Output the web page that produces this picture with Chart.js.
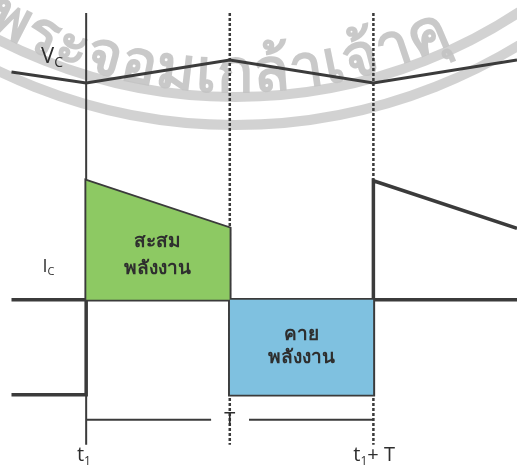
<!DOCTYPE html>
<html>
<head>
<meta charset="utf-8">
<script src="https://cdn.jsdelivr.net/npm/chart.js@4.4.1/dist/chart.umd.min.js"></script>
<style>
  html, body { margin: 0; padding: 0; background: #fff; }
  #wrap { width: 517px; height: 465px; }
</style>
</head>
<body>
<div id="wrap"><canvas id="myChart" width="517" height="465"></canvas></div>
<script>
// time in periods, t1 = 0, t1 + T = 1
const icTime = [-0.26, 0, 0, 0.5, 0.5, 1, 1, 1.5];
const icValues = [-0.8, -0.8, 1.0, 0.6, -0.8, -0.8, 1.0, 0.6];
const vcTime = [-0.26, 0, 0.5, 1, 1.5];
const vcValues = [0.48, 0, 1, 0, 1];
const storeTime = [0, 0, 0.5, 0.5];
const storeValues = [0, 1.0, 0.6, 0];
const releaseTime = [0.5, 0.5, 1, 1];
const releaseValues = [0, -0.8, -0.8, 0];
const axisTime = [-0.26, 1.5];
const markerTop = 2.41;
const markerBottom = -1.22;
const periodLevel = -1.01;
const periodGap = [0.435, 0.567];

const pts = (xs, ys) => xs.map((x, i) => ({ x: x, y: ys[i] }));
const ink = '#3b3b3b';

const watermark = {
    id: 'watermark',
    beforeDatasetsDraw(chart) {
        const ctx = chart.ctx;
        const cx = 235, cy = -420;
        ctx.save();
        ctx.strokeStyle = 'rgba(205,205,205,0.9)';
        ctx.lineWidth = 10;
        [517, 545].forEach(r => {
            ctx.beginPath();
            ctx.arc(cx, cy, r, 0, Math.PI);
            ctx.stroke();
        });
        // ข้อความโค้งตามวงกลม
        const glyphs = ['พ','ร','ะ','จ','อ','ม','เ','ก','ล้','า','เ','จ้','า','คุ'];
        const r = 512;
        ctx.font = 'bold 60px "Noto Sans", sans-serif';
        ctx.fillStyle = 'rgba(195,195,195,0.9)';
        ctx.textAlign = 'center';
        ctx.textBaseline = 'alphabetic';
        const widths = glyphs.map(g => ctx.measureText(g).width);
        const a0 = Math.asin(-250 / r), a1 = Math.asin(218 / r);
        const total = widths.reduce((s, w) => s + w, 0);
        const gap = ((a1 - a0) * r - total) / (glyphs.length - 1);
        let s = 0;
        glyphs.forEach((g, i) => {
            const a = a0 + (s + widths[i] / 2) / r;
            ctx.save();
            ctx.translate(cx + r * Math.sin(a), cy + r * Math.cos(a));
            ctx.rotate(-a);
            ctx.fillText(g, 0, 0);
            ctx.restore();
            s += widths[i] + gap;
        });
        ctx.restore();
    }
};

const labels = {
    id: 'labels',
    afterDatasetsDraw(chart) {
        const ctx = chart.ctx;
        const x = chart.scales.x, y = chart.scales.y, y2 = chart.scales.y2;
        ctx.save();
        ctx.fillStyle = '#2e2e2e';
        const sub = (main, small, px, py, size) => {
            ctx.textAlign = 'left';
            ctx.textBaseline = 'alphabetic';
            ctx.font = size + 'px "Open Sans", sans-serif';
            ctx.fillText(main, px, py);
            const w = ctx.measureText(main).width;
            ctx.font = Math.round(size * 0.62) + 'px "Open Sans", sans-serif';
            ctx.fillText(small, px + w, py + size * 0.16);
            return w + ctx.measureText(small).width;
        };
        sub('V', 'C', x.getPixelForValue(-0.157), y2.getPixelForValue(0.87), 22);
        sub('I', 'C', x.getPixelForValue(-0.152), y.getPixelForValue(0.23), 18);
        sub('t', '1', x.getPixelForValue(-0.032), y.getPixelForValue(-1.36), 20);
        const w = sub('t', '1', x.getPixelForValue(0.93), y.getPixelForValue(-1.36), 20);
        ctx.font = '20px "Open Sans", sans-serif';
        ctx.fillText('+ T', x.getPixelForValue(0.93) + w, y.getPixelForValue(-1.36));
        ctx.textAlign = 'center';
        ctx.textBaseline = 'middle';
        ctx.fillText('T', x.getPixelForValue(0.5), y.getPixelForValue(periodLevel));
        ctx.font = 'bold 19px "Noto Sans", sans-serif';
        ctx.fillText('สะสม', x.getPixelForValue(0.25), y.getPixelForValue(0.49));
        ctx.fillText('พลังงาน', x.getPixelForValue(0.25), y.getPixelForValue(0.26));
        ctx.fillText('คาย', x.getPixelForValue(0.75), y.getPixelForValue(-0.29));
        ctx.fillText('พลังงาน', x.getPixelForValue(0.75), y.getPixelForValue(-0.49));
        ctx.restore();
    }
};

const line = (data, extra) => Object.assign({
    data: data, borderColor: ink, borderWidth: 3, pointRadius: 0,
    fill: false, tension: 0, yAxisID: 'y'
}, extra);

new Chart(document.getElementById('myChart'), {
    type: 'line',
    data: {
        datasets: [
            line(pts(storeTime, storeValues), { borderWidth: 0, fill: 'origin', backgroundColor: '#8dc963' }),
            line(pts(releaseTime, releaseValues), { borderWidth: 0, fill: 'origin', backgroundColor: '#7fc1e0' }),
            line(pts(axisTime, [0, 0]), { borderWidth: 3.5 }),
            line(pts([0, 0], [markerTop, markerBottom]), { borderWidth: 2 }),
            line(pts([0.5, 0.5], [markerTop, markerBottom]), { borderWidth: 2.5, borderDash: [3, 2] }),
            line(pts([1, 1], [markerTop, markerBottom]), { borderWidth: 2.5, borderDash: [3, 2] }),
            line(pts([0, periodGap[0]], [periodLevel, periodLevel]), { borderWidth: 2 }),
            line(pts([periodGap[1], 1], [periodLevel, periodLevel]), { borderWidth: 2 }),
            line(pts(icTime, icValues), { borderWidth: 3.5 }),
            line(pts(vcTime, vcValues), { yAxisID: 'y2' })
        ]
    },
    options: {
        responsive: false,
        animation: false,
        layout: { padding: 0 },
        plugins: { legend: { display: false }, tooltip: { enabled: false } },
        scales: {
            x: { type: 'linear', min: -0.3, max: 1.5, display: false },
            y: { min: -1.39, max: 2.52, display: false },
            y2: { min: -16.61, max: 3.61, display: false }
        }
    },
    plugins: [watermark, labels]
});
</script>
</body>
</html>
